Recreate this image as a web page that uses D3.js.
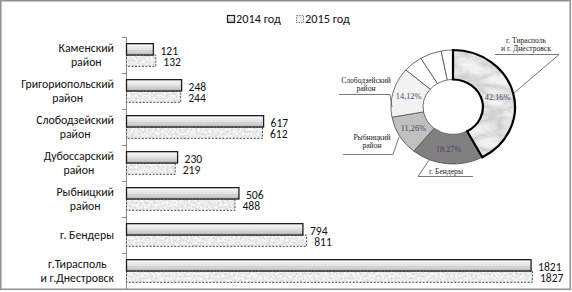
<!DOCTYPE html>
<html><head><meta charset="utf-8">
<script src="https://cdn.jsdelivr.net/npm/d3@7"></script>
<style>
html,body{margin:0;padding:0;background:#fff;}
svg{display:block;font-family:Carlito,Lato,"Noto Sans",sans-serif;}
</style></head>
<body><svg id="c" width="572" height="292"></svg>
<script>
// ---- data ----
const categories = ["Каменский район","Григориопольский район","Слободзейский район","Дубоссарский район","Рыбницкий район","г. Бендеры","г.Тирасполь и г.Днестровск"];
const categoryLines = [["Каменский","район"],["Григориопольский","район"],["Слободзейский","район"],["Дубоссарский","район"],["Рыбницкий","район"],["г. Бендеры"],["г.Тирасполь","и г.Днестровск"]];
const series = ["2014 год","2015 год"];
const values2014 = [121,248,617,230,506,794,1821];
const values2015 = [132,244,612,219,488,811,1827];
// donut (2015 shares), clockwise from top
const pieCategories = ["г.Тирасполь и г.Днестровск","г. Бендеры","Рыбницкий район","Слободзейский район","Дубоссарский район","Григориопольский район","Каменский район"];
const pieValues = [1827,811,488,612,219,244,132];
const piePercentLabels = ["42,16%","18,27%","11,26%","14,12%","","",""];
const pieCallouts = [["г. Тирасполь","и г. Днестровск"],["г. Бендеры"],["Рыбницкий","район"],["Слободзейский","район"],[],[],[]];

const svg = d3.select("#c");
const defs = svg.append("defs");

// gradient for 2014
const g1 = defs.append("linearGradient").attr("id","g2014").attr("x1",0).attr("y1",0).attr("x2",0).attr("y2",1);
g1.append("stop").attr("offset","0%").attr("stop-color","#fbfbfb");
g1.append("stop").attr("offset","45%").attr("stop-color","#e4e4e4");
g1.append("stop").attr("offset","100%").attr("stop-color","#b9b9b9");

// speckle texture for 2015
const f1 = defs.append("filter").attr("id","speckle").attr("x",0).attr("y",0).attr("width",1).attr("height",1);
f1.append("feTurbulence").attr("type","fractalNoise").attr("baseFrequency","0.45").attr("numOctaves",2).attr("seed",3).attr("result","n");
f1.append("feColorMatrix").attr("in","n").attr("type","matrix")
  .attr("values","0 0 0 0 0  0 0 0 0 0  0 0 0 0 0  0 0 0 -2.2 1.5").attr("result","a");
f1.append("feFlood").attr("flood-color","#ffffff").attr("result","w");
f1.append("feComposite").attr("in","w").attr("in2","a").attr("operator","in").attr("result","wm");
f1.append("feFlood").attr("flood-color","#dedede").attr("result","bg");
f1.append("feMerge").call(m=>{m.append("feMergeNode").attr("in","bg");m.append("feMergeNode").attr("in","wm");}).attr("result","tex");
f1.append("feComposite").attr("in","tex").attr("in2","SourceGraphic").attr("operator","in");

// marble texture
const f2 = defs.append("filter").attr("id","marble").attr("x",0).attr("y",0).attr("width",1).attr("height",1);
f2.append("feTurbulence").attr("type","turbulence").attr("baseFrequency","0.035 0.07").attr("numOctaves",4).attr("seed",7).attr("result","n");
f2.append("feColorMatrix").attr("in","n").attr("type","matrix")
  .attr("values","0 0 0 0 0  0 0 0 0 0  0 0 0 0 0  -1.3 0 0 0 0.75").attr("result","a");
f2.append("feFlood").attr("flood-color","#b8b8b8").attr("result","dk");
f2.append("feComposite").attr("in","dk").attr("in2","a").attr("operator","in").attr("result","dm");
f2.append("feFlood").attr("flood-color","#f4f4f4").attr("result","bg");
f2.append("feMerge").call(m=>{m.append("feMergeNode").attr("in","bg");m.append("feMergeNode").attr("in","dm");}).attr("result","tex");
f2.append("feComposite").attr("in","tex").attr("in2","SourceGraphic").attr("operator","in");

// frame
svg.append("rect").attr("x",0.75).attr("y",0.75).attr("width",569.5).attr("height",288.5)
  .attr("fill","none").attr("stroke","#8f8f8f").attr("stroke-width",1.5);

// ---- bar chart ----
const x = d3.scaleLinear().domain([0,1821]).range([126,530.6]);
const y = d3.scaleBand().domain(categories).range([37,289]).paddingInner(0.37).paddingOuter(0.185);
const ys = d3.scaleBand().domain(series).range([0,y.bandwidth()]);

// axis
const ax = svg.append("g").attr("stroke","#8a8a8a").attr("stroke-width",1);
ax.append("line").attr("x1",126.5).attr("x2",126.5).attr("y1",37).attr("y2",289);
const boundaries = categories.map(c => y(c) - y.step()*y.paddingInner()/2);
ax.selectAll("line.t").data(boundaries).join("line").attr("class","t")
  .attr("x1",122).attr("x2",126.5).attr("y1",d=>Math.round(d)+0.5).attr("y2",d=>Math.round(d)+0.5);

const rows = categories.map((c,i)=>({c, lines:categoryLines[i], v14:values2014[i], v15:values2015[i]}));

// category labels: block right-aligned, lines centred within block
const lab = svg.append("g").attr("font-size","11.8px").attr("fill","#111").attr("text-anchor","middle");
rows.forEach(r=>{
  const cy = y(r.c) + y.bandwidth()/2;
  const n = r.lines.length;
  const texts = r.lines.map((t,k)=> lab.append("text").attr("y",cy + 4 + (k-(n-1)/2)*13.2).text(t));
  const w = d3.max(texts, t=>t.node().getComputedTextLength());
  texts.forEach(t=>t.attr("x",114 - w/2));
});

// bars 2015 (dashed, textured)
svg.append("g").selectAll("rect").data(rows).join("rect")
  .attr("x",x(0)+0.5).attr("y",d=>y(d.c)+ys(series[1]))
  .attr("width",d=>x(d.v15)-x(0)).attr("height",ys.bandwidth())
  .attr("fill","#000").attr("filter","url(#speckle)");
svg.append("g").selectAll("rect").data(rows).join("rect")
  .attr("x",x(0)+0.5).attr("y",d=>y(d.c)+ys(series[1]))
  .attr("width",d=>x(d.v15)-x(0)).attr("height",ys.bandwidth())
  .attr("fill","none").attr("stroke","#3a3a3a").attr("stroke-width",0.9).attr("stroke-dasharray","2,1.5");
// bars 2014
svg.append("g").selectAll("rect").data(rows).join("rect")
  .attr("x",x(0)+0.5).attr("y",d=>y(d.c)+ys(series[0]))
  .attr("width",d=>x(d.v14)-x(0)).attr("height",ys.bandwidth())
  .attr("fill","url(#g2014)").attr("stroke","#1e1e1e").attr("stroke-width",1.3);

// value labels
const vl = svg.append("g").attr("font-size","11.6px").attr("fill","#111");
rows.forEach(r=>{
  vl.append("text").attr("x",x(r.v14)+7.5).attr("y",y(r.c)+ys(series[0])+ys.bandwidth()-0.5).text(r.v14);
  vl.append("text").attr("x",x(r.v15)+8).attr("y",y(r.c)+ys(series[1])+ys.bandwidth()-0.5).text(r.v15);
});

// legend
const lg = svg.append("g").attr("font-size","12.3px").attr("fill","#111");
lg.append("rect").attr("x",227.5).attr("y",15.5).attr("width",7).attr("height",7).attr("fill","url(#g2014)").attr("stroke","#1e1e1e").attr("stroke-width",1.2);
lg.append("text").attr("x",236).attr("y",23).text(series[0]);
lg.append("rect").attr("x",296.5).attr("y",15.5).attr("width",7).attr("height",7).attr("fill","#000").attr("filter","url(#speckle)");
lg.append("rect").attr("x",296.5).attr("y",15.5).attr("width",7).attr("height",7).attr("fill","none").attr("stroke","#777").attr("stroke-width",0.9).attr("stroke-dasharray","1.5,1");
lg.append("text").attr("x",305).attr("y",23).text(series[1]);

// ---- donut ----
const cx = 453, cy = 107, sx = 1.088, R = 57, r0 = 27.5;
const pie = d3.pie().sort(null).value(d=>d.v);
const pdata = pie(pieCategories.map((c,i)=>({c, v:pieValues[i], p:piePercentLabels[i], call:pieCallouts[i]})));
const arc = d3.arc().innerRadius(r0).outerRadius(R);
const fills = ["marble","#808080","#c0c0c0","#f2f2f2","#ffffff","#ffffff","#ffffff"];
const dg = svg.append("g").attr("transform",`translate(${cx},${cy}) scale(${sx},1)`);
dg.selectAll("path.s").data(pdata).join("path").attr("class","s")
  .attr("d",arc)
  .attr("fill",(d,i)=>fills[i]==="marble"?"#000":fills[i])
  .attr("filter",(d,i)=>fills[i]==="marble"?"url(#marble)":null)
  .attr("stroke","#4d4d4d").attr("stroke-width",0.8).attr("vector-effect","non-scaling-stroke");
dg.append("path").attr("d",arc(pdata[0])).attr("fill","none").attr("stroke","#000").attr("stroke-width",2.2).attr("vector-effect","non-scaling-stroke");

// percent labels
const pl = svg.append("g").attr("font-family","'Liberation Serif','Times New Roman',serif").attr("font-size","8.3px").attr("fill","#5a3a6e").attr("text-anchor","middle");
pdata.forEach(d=>{
  if(!d.data.p) return;
  const a = (d.startAngle+d.endAngle)/2, rr = (R+r0)/2;
  pl.append("text").attr("x",cx+Math.sin(a)*rr*sx).attr("y",cy-Math.cos(a)*rr+3).text(d.data.p);
});

// callouts (annotation layout)
const callLayout = [
  {tx:526, ty:42.5, ux1:495, ux2:559, uy:54.5, lx:559, le:[514,93]},
  {tx:446, ty:174, ux1:418, ux2:473, uy:176.5, lx:418, le:[429,160]},
  {tx:372, ty:140, ux1:343, ux2:393, uy:154.5, lx:393, le:[399,137]},
  {tx:366, ty:83, ux1:339, ux2:390, uy:94.5, lx:390, le:[392,107]}
];
const cl = svg.append("g").attr("font-family","'Liberation Serif','Times New Roman',serif").attr("font-size","7.6px").attr("fill","#222").attr("text-anchor","middle");
callLayout.forEach((L,i)=>{
  const lines = pdata[i].data.call;
  lines.forEach((t,k)=>{
    cl.append("text").attr("x",L.tx).attr("y",L.ty + k*8).text(t);
  });
  cl.append("line").attr("x1",L.ux1).attr("x2",L.ux2).attr("y1",L.uy).attr("y2",L.uy).attr("stroke","#555").attr("stroke-width",0.8);
  cl.append("line").attr("x1",L.lx).attr("y1",L.uy).attr("x2",L.le[0]).attr("y2",L.le[1]).attr("stroke","#555").attr("stroke-width",0.8);
});
</script></body></html>
